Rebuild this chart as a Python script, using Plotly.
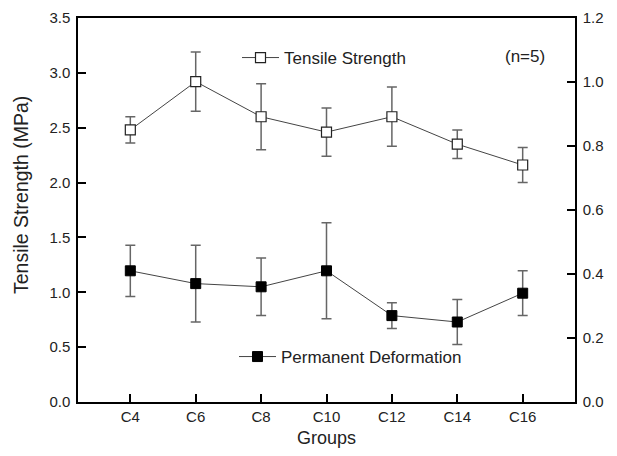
import plotly.graph_objects as go

groups = ["C4", "C6", "C8", "C10", "C12", "C14", "C16"]
tensile = [2.48, 2.92, 2.60, 2.46, 2.60, 2.35, 2.16]
tensile_err = [0.12, 0.27, 0.30, 0.22, 0.27, 0.13, 0.16]
deform = [0.41, 0.37, 0.36, 0.41, 0.27, 0.25, 0.34]
deform_err = [0.08, 0.12, 0.09, 0.15, 0.04, 0.07, 0.07]

FONT = "Liberation Sans, Arial, sans-serif"
# page has an 8px body margin: compensate so the plot area lands at page x 78..575, y 18..402
OFF = 8
PL, PR, PT, PB = 78, 575, 18, 402
pw, ph = PR - PL, PB - PT
W, H = 601, 440
L, T = PL - OFF, PT - OFF
R = W - L - pw
B = H - T - ph


def fx(px):
    return (px - PL) / pw


def fy(py):
    return (PB - py) / ph


fig = go.Figure()
fig.add_trace(go.Scatter(
    x=groups, y=tensile, name="Tensile Strength", mode="lines+markers",
    line=dict(color="#444444", width=1),
    marker=dict(symbol="square", size=10, color="white", line=dict(color="#222222", width=1.2)),
    error_y=dict(type="data", array=tensile_err, visible=True, color="#666666", thickness=1.5, width=5),
    legend="legend", showlegend=True, yaxis="y"))
fig.add_trace(go.Scatter(
    x=groups, y=deform, name="Permanent Deformation", mode="lines+markers",
    line=dict(color="#444444", width=1),
    marker=dict(symbol="square", size=10, color="black", line=dict(color="black", width=1)),
    error_y=dict(type="data", array=deform_err, visible=True, color="#666666", thickness=1.5, width=5),
    legend="legend2", showlegend=True, yaxis="y2"))

axis_common = dict(showline=True, linecolor="black", linewidth=1.5, ticks="inside", ticklen=8,
                   tickwidth=1.5, tickcolor="black", showgrid=False, zeroline=False, automargin=False,
                   tickfont=dict(family=FONT, size=15, color="#222222"))

fig.update_layout(
    width=W, height=H,
    margin=dict(l=L, r=R, t=T, b=B),
    paper_bgcolor="white", plot_bgcolor="white",
    font=dict(family=FONT, color="#222222"),
    showlegend=True,
    xaxis=dict(**axis_common, range=[-0.8, 6.8], mirror=True,
               title=dict(text="Groups", font=dict(family=FONT, size=18), standoff=14)),
    yaxis=dict(**axis_common, range=[0, 3.5], dtick=0.5, tickformat=".1f", ticklabelstandoff=3),
    yaxis2=dict(**axis_common, range=[0, 1.2], dtick=0.2, tickformat=".1f", ticklabelstandoff=3,
                overlaying="y", side="right"),
    legend=dict(x=fx(237), y=fy(58), xanchor="left", yanchor="middle", itemwidth=37,
                bgcolor="rgba(0,0,0,0)", font=dict(family=FONT, size=17, color="#222222")),
    legend2=dict(x=fx(234), y=fy(357), xanchor="left", yanchor="middle", itemwidth=37,
                 bgcolor="rgba(0,0,0,0)", font=dict(family=FONT, size=17, color="#222222")),
    annotations=[
        dict(text="(n=5)", x=fx(525), y=fy(56), xref="paper", yref="paper",
             xanchor="center", yanchor="middle",
             showarrow=False, font=dict(family=FONT, size=17, color="#222222")),
        dict(text="Tensile Strength (MPa)", textangle=-90, x=fx(21), y=fy(195),
             xref="paper", yref="paper", showarrow=False, xanchor="center", yanchor="middle",
             font=dict(family=FONT, size=19.5, color="#222222")),
    ],
)

fig.write_html("out.html")
